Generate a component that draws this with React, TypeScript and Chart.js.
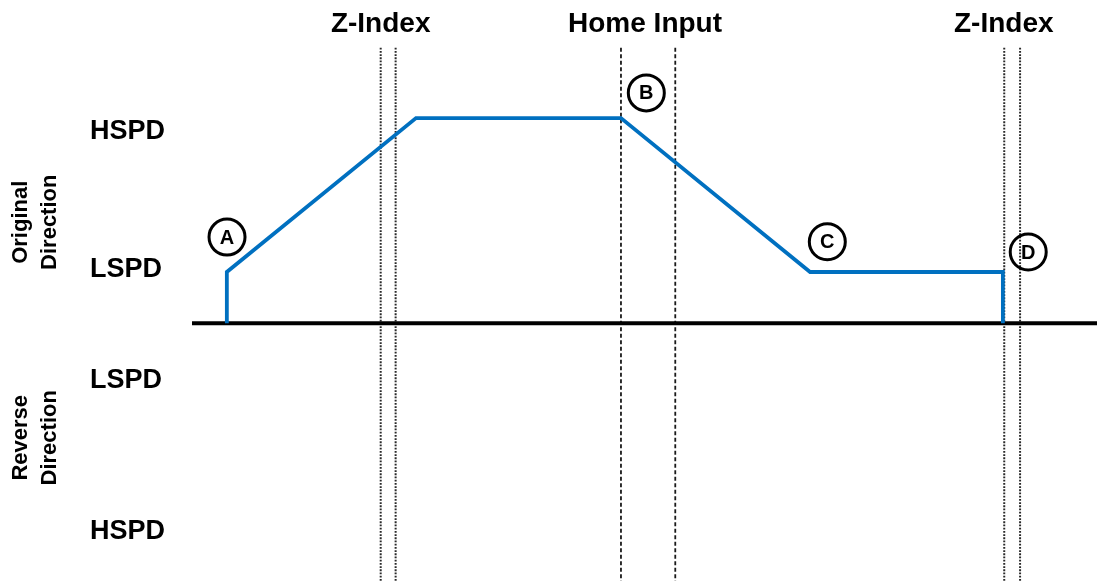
import React, { useEffect, useRef } from 'react';
import { Chart, registerables } from 'chart.js';

Chart.register(...registerables);

// Speed profile (x: time units 0..100, y: speed units, LSPD = 1, HSPD = 4)
const profileX = [3.85, 3.85, 24.75, 47.4, 68.3, 89.6, 89.6];
const profileY = [0, 1, 4, 4, 1, 1, 0];
const baselineX = [0, 100];
const zIndexLinesX = [20.85, 22.5, 89.75, 91.5];
const homeInputLinesX = [47.4, 53.4];
const markerLabels = ['A', 'B', 'C', 'D'];
const markerX = [3.87, 50.2, 70.2, 92.4];
const markerY = [1.68, 4.49, 1.59, 1.39];
const headerLabels = ['Z-Index', 'Home Input', 'Z-Index'];
const headerX = [20.85, 50.06, 89.7];
const speedTickValues = [3.73, 1.04, -1.12, -4.06];
const speedTickLabels = ['HSPD', 'LSPD', 'LSPD', 'HSPD'];
const directionLabels = [['Original', 'Direction'], ['Reverse', 'Direction']];
const directionY = [1.97, -2.23];

const HEADER_Y = 5.83;
const GUIDE_TOP = 5.37;
const Y_MIN = -5.02;
const Y_MAX = 6.3;
const FONT = "'Liberation Sans', Arial, sans-serif";

export default function App() {
  const ref = useRef<HTMLCanvasElement | null>(null);

  useEffect(() => {
    if (!ref.current) return;

    const guideSets: any[] = [];
    zIndexLinesX.forEach((x) => {
      guideSets.push({
        data: [{ x, y: GUIDE_TOP }, { x, y: Y_MIN }],
        borderColor: '#2a2a2a',
        borderWidth: 2,
        borderDash: [1.8, 1.4],
        pointRadius: 0,
        fill: false,
      });
    });
    homeInputLinesX.forEach((x) => {
      guideSets.push({
        data: [{ x, y: GUIDE_TOP }, { x, y: Y_MIN }],
        borderColor: '#1a1a1a',
        borderWidth: 1.8,
        borderDash: [4, 2.5],
        pointRadius: 0,
        fill: false,
      });
    });

    const textPlugin = {
      id: 'annotText',
      afterDatasetsDraw(chart: any) {
        const { ctx, scales, chartArea } = chart;
        const xs = scales.x;
        const ys = scales.y;
        ctx.save();
        ctx.fillStyle = '#000000';
        ctx.textAlign = 'center';
        ctx.textBaseline = 'middle';
        // headers
        ctx.font = `bold 28px ${FONT}`;
        headerLabels.forEach((t, i) => {
          ctx.fillText(t, xs.getPixelForValue(headerX[i]), ys.getPixelForValue(HEADER_Y));
        });
        // marker letters
        ctx.font = `bold 20px ${FONT}`;
        markerLabels.forEach((t, i) => {
          ctx.fillText(t, xs.getPixelForValue(markerX[i]), ys.getPixelForValue(markerY[i]) + 1);
        });
        // direction labels (rotated)
        ctx.font = `bold 22px ${FONT}`;
        directionLabels.forEach((lines, i) => {
          const cx = chartArea.left - 157;
          const cy = ys.getPixelForValue(directionY[i]);
          ctx.save();
          ctx.translate(cx, cy);
          ctx.rotate(-Math.PI / 2);
          ctx.fillText(lines[0], 0, -14);
          ctx.fillText(lines[1], 0, 15);
          ctx.restore();
        });
        ctx.restore();
      },
    };

    const chart = new Chart(ref.current, {
      type: 'line',
      data: {
        datasets: [
          {
            data: markerX.map((x, i) => ({ x, y: markerY[i] })),
            showLine: false,
            pointRadius: 18,
            pointHoverRadius: 18,
            pointBorderWidth: 3,
            pointBorderColor: '#000000',
            pointBackgroundColor: 'rgba(255,255,255,0)',
          },
          {
            data: profileX.map((x, i) => ({ x, y: profileY[i] })),
            borderColor: '#0070C0',
            borderWidth: 3.8,
            borderJoinStyle: 'miter',
            pointRadius: 0,
            fill: false,
          },
          {
            data: baselineX.map((x) => ({ x, y: 0 })),
            borderColor: '#000000',
            borderWidth: 4,
            pointRadius: 0,
            fill: false,
          },
          ...guideSets,
        ],
      },
      options: {
        animation: false,
        responsive: false,
        events: [],
        layout: { autoPadding: false, padding: { left: 90, top: 0, right: 0, bottom: 0 } },
        plugins: { legend: { display: false }, tooltip: { enabled: false } },
        scales: {
          x: {
            type: 'linear',
            min: 0,
            max: 100,
            display: false,
          },
          y: {
            type: 'linear',
            min: Y_MIN,
            max: Y_MAX,
            grid: { display: false },
            border: { display: false },
            afterBuildTicks(scale: any) {
              scale.ticks = speedTickValues.map((v) => ({ value: v }));
            },
            afterFit(scale: any) {
              scale.width = 102;
              scale.paddingTop = 0;
              scale.paddingBottom = 0;
            },
            ticks: {
              crossAlign: 'far',
              color: '#000000',
              font: { family: FONT, size: 27, weight: 'bold' },
              callback: (_v: any, i: number) => speedTickLabels[i],
            },
          },
        },
      },
      plugins: [textPlugin],
    } as any);

    return () => chart.destroy();
  }, []);

  return (
    <div style={{ position: 'absolute', left: 0, top: 0, width: 1097, height: 581, background: '#ffffff' }}>
      <canvas ref={ref} width={1097} height={581} style={{ width: 1097, height: 581, display: 'block' }} />
    </div>
  );
}
